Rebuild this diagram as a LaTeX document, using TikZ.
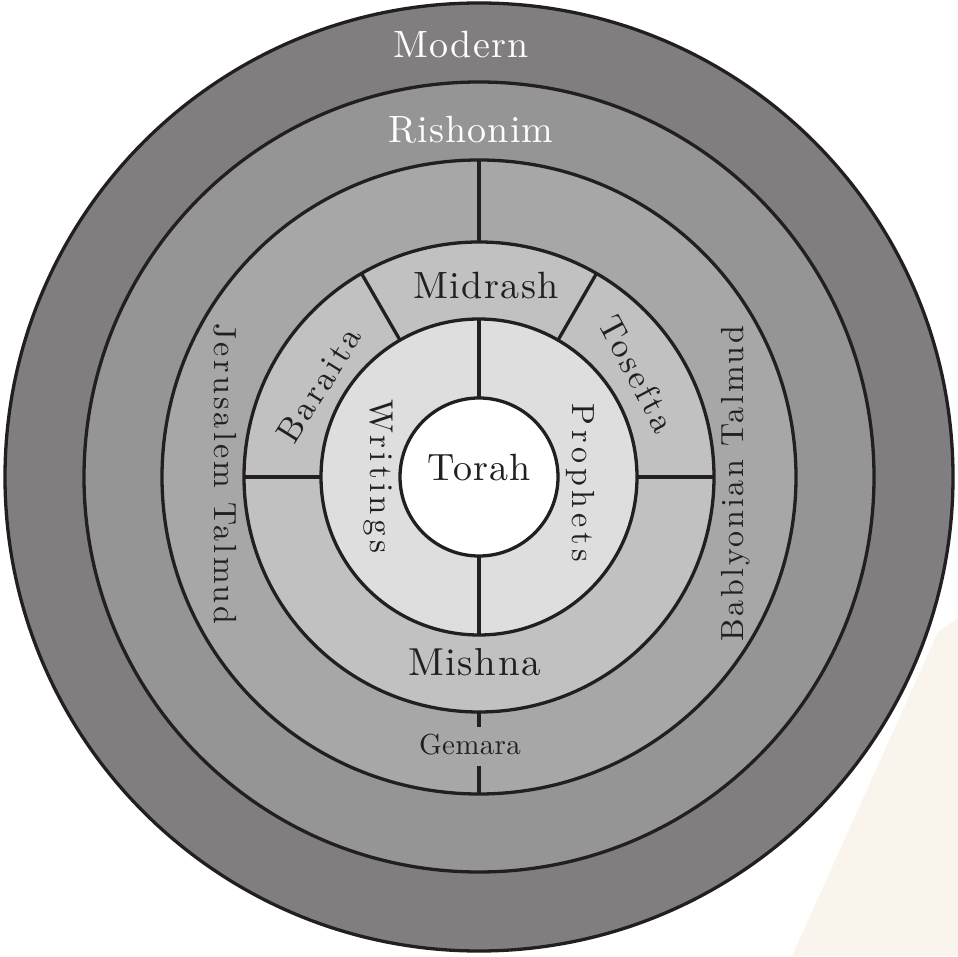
\documentclass[tikz,border=0pt]{standalone}
\usepackage{fontspec}
\newfontfamily\lmten{lmroman10-regular.otf}
\definecolor{linec}{RGB}{35,31,32}
\definecolor{cmod}{RGB}{128,126,127}
\definecolor{crish}{RGB}{150,149,149}
\definecolor{ctal}{RGB}{168,167,167}
\definecolor{cmish}{RGB}{193,193,193}
\definecolor{cinn}{RGB}{222,222,222}
\definecolor{wmark}{RGB}{249,245,237}
\newcommand\labfont[2]{\lmten\fontsize{#1}{#1}\selectfont\addfontfeature{LetterSpace=#2}}
\tikzset{
  ring/.style={circle, draw=linec, line width=3.3pt, inner sep=0pt, outer sep=0pt, minimum size=#1},
  divline/.style={draw=linec, line width=3.3pt},
  lbl/.style={inner sep=0pt, outer sep=0pt, text=linec},
  wlbl/.style={inner sep=0pt, outer sep=0pt, text=white},
}
\begin{document}
\begin{tikzpicture}[x=1pt,y=1pt]
\useasboundingbox (0,0) rectangle (958,956);
\fill[wmark] (938,324) -- (958,338) -- (958,0) -- (792,0) -- cycle;
\coordinate (c) at (479,479);
\node[ring=948pt, fill=cmod] (modern) at (c) {};
\node[ring=790pt, fill=crish] (rish) at (c) {};
\node[ring=634pt, fill=ctal] (tal) at (c) {};
\node[ring=470pt, fill=cmish] (mish) at (c) {};
\node[ring=316pt, fill=cinn] (inn) at (c) {};
\node[ring=158pt, fill=white] (tor) at (c) {};
% dividers
\coordinate (g1) at (479,229);
\coordinate (g2) at (479,190);
\draw[divline] (tal.90) -- (mish.90);
\draw[divline] (mish.-90) -- (g1);
\draw[divline] (g2) -- (tal.-90);
\draw[divline] (mish.0) -- (inn.0);
\draw[divline] (mish.60) -- (inn.60);
\draw[divline] (mish.120) -- (inn.120);
\draw[divline] (mish.180) -- (inn.180);
\draw[divline] (inn.90) -- (tor.90);
\draw[divline] (inn.-90) -- (tor.-90);
% labels
\node[wlbl, anchor=base] (tmod) at (461,898) {\labfont{38}{3}Modern};
\node[wlbl, anchor=base] (trish) at (471,813) {\labfont{38}{3}Rishonim};
\node[lbl, anchor=base] (tmid) at (486,657) {\labfont{38}{4}Midrash};
\node[lbl, anchor=base] (tmish) at (474.5,280) {\labfont{39}{4}Mishna};
\node[lbl, anchor=base] (ttor) at (479,475) {\labfont{38}{3}Torah};
\node[lbl, anchor=base] (tgem) at (470,201) {\labfont{29}{1}Gemara};
\node[lbl, anchor=base, rotate=-90] (tjer) at (214,482) {\labfont{32}{10}Jerusalem Talmud};
\node[lbl, anchor=base, rotate=90] (tbab) at (743,472) {\labfont{32}{8.5}Bablyonian Talmud};
\node[lbl, anchor=base, rotate=-90] (twri) at (370,479.5) {\labfont{33}{13}Writings};
\node[lbl, anchor=base, rotate=-90] (tpro) at (572,473) {\labfont{32}{15}Prophets};
\node[lbl, rotate=-62] (ttos) at (637.5,582) {\labfont{34}{9}Tosefta};
\node[lbl, rotate=58] (tbar) at (319,571) {\labfont{34}{9}Baraita};
\end{tikzpicture}
\end{document}
